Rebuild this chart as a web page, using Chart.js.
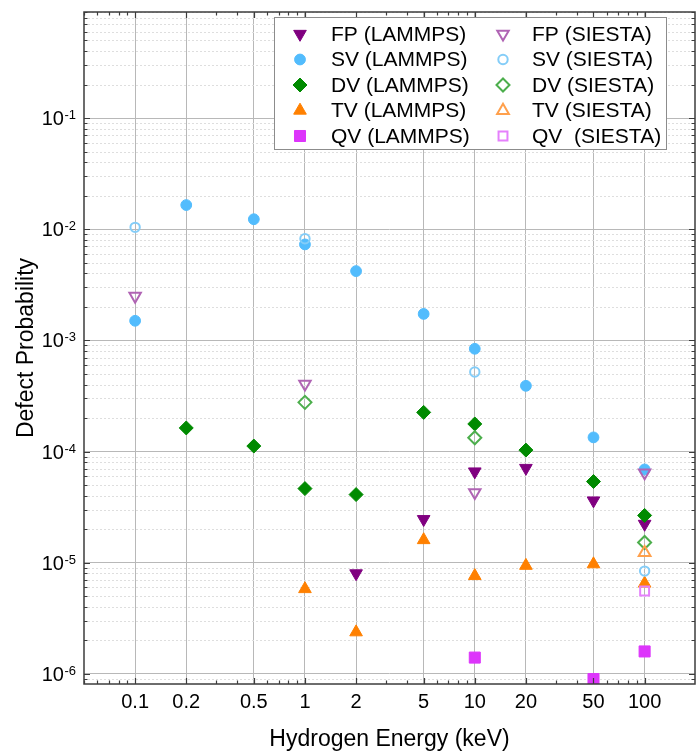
<!DOCTYPE html>
<html>
<head>
<meta charset="utf-8">
<script src="https://cdn.jsdelivr.net/npm/chart.js@4.4.1/dist/chart.umd.min.js"></script>
<style>
  html, body { margin: 0; padding: 0; background: #fff; overflow: hidden; }
</style>
</head>
<body>
<canvas id="graficoDefectos" width="696" height="753"></canvas>
<script>
const energias = [0.1, 0.2, 0.5, 1, 2, 5, 10, 20, 50, 100];

// Probabilidades LAMMPS (null = sin dato)
const fpLammps = [null, null, null, null, 8.0e-6, 2.46e-5, 6.6e-5, 7.1e-5, 3.62e-5, 2.23e-5];
const svLammps = [1.5e-3, 1.65e-2, 1.23e-2, 7.3e-3, 4.2e-3, 1.73e-3, 8.4e-4, 3.9e-4, 1.34e-4, 6.9e-5];
const dvLammps = [null, 1.63e-4, 1.12e-4, 4.64e-5, 4.1e-5, 2.25e-4, 1.77e-4, 1.03e-4, 5.37e-5, 2.66e-5];
const tvLammps = [null, null, null, 5.8e-6, 2.37e-6, 1.6e-5, 7.6e-6, 9.4e-6, 9.7e-6, 6.5e-6];
const qvLammps = [null, null, null, null, null, null, 1.4e-6, null, 8.97e-7, 1.59e-6];

// Probabilidades SIESTA
const fpSiesta = [2.5e-3, null, null, 4.05e-4, null, null, 4.28e-5, null, null, 6.45e-5];
const svSiesta = [1.04e-2, null, null, 8.2e-3, null, null, 5.2e-4, null, null, 8.4e-6];
const dvSiesta = [null, null, null, 2.77e-4, null, null, 1.33e-4, null, null, 1.52e-5];
const tvSiesta = [null, null, null, null, null, null, null, null, null, 1.23e-5];
const qvSiesta = [null, null, null, null, null, null, null, null, null, 5.57e-6];

const etiquetasX = [0.1, 0.2, 0.5, 1, 2, 5, 10, 20, 50, 100];
const exponentesY = [-6, -5, -4, -3, -2, -1];

const fuente = '"Liberation Sans", Arial, sans-serif';

function puntos(valores) {
  return energias.map((x, i) => ({ x: x, y: valores[i] })).filter(p => p.y !== null);
}

function serie(label, valores, estilo, color, radio, relleno, rotacion) {
  return {
    label: label,
    data: puntos(valores),
    pointStyle: estilo,
    pointRotation: rotacion || 0,
    pointRadius: radio,
    pointBackgroundColor: relleno ? color : 'rgba(0,0,0,0)',
    pointBorderColor: color,
    pointBorderWidth: relleno ? 1 : 2,
    showLine: false
  };
}

const series = [
  serie('FP (LAMMPS)', fpLammps, 'triangle', '#800080', 7.3, true, 180),
  serie('SV (LAMMPS)', svLammps, 'circle', '#52bcfd', 5.4, true),
  serie('DV (LAMMPS)', dvLammps, 'rectRot', '#008a00', 7, true),
  serie('TV (LAMMPS)', tvLammps, 'triangle', '#ff8000', 7.3, true),
  serie('QV (LAMMPS)', qvLammps, 'rect', '#dd35fb', 7.8, true),
  serie('FP (SIESTA)', fpSiesta, 'triangle', '#b064b4', 6.6, false, 180),
  serie('SV (SIESTA)', svSiesta, 'circle', '#84cdf8', 4.7, false),
  serie('DV (SIESTA)', dvSiesta, 'rectRot', '#4cae4c', 6.5, false),
  serie('TV (SIESTA)', tvSiesta, 'triangle', '#ffa04c', 6.8, false),
  serie('QV  (SIESTA)', qvSiesta, 'rect', '#e580fc', 6.3, false)
];
// las series posteriores se dibujan encima
series.forEach((s, i) => { s.order = -i; });

// Rejilla menor punteada, marco, marcas interiores, etiquetas de ejes y leyenda
const marco = {
  id: 'marco',
  beforeDatasetsDraw(chart) {
    const { ctx, chartArea: a, scales: { y } } = chart;
    ctx.save();
    ctx.strokeStyle = '#dedede';
    ctx.lineWidth = 1;
    ctx.setLineDash([2, 2]);
    for (let k = -7; k <= 0; k++) {
      for (let m = 2; m <= 9; m++) {
        const v = m * Math.pow(10, k);
        if (v < y.min || v > y.max) continue;
        const py = Math.round(y.getPixelForValue(v)) + 0.5;
        ctx.beginPath();
        ctx.moveTo(a.left, py);
        ctx.lineTo(a.right, py);
        ctx.stroke();
      }
    }
    ctx.restore();
  },
  afterDatasetsDraw(chart) {
    const { ctx, chartArea: a, scales: { x, y } } = chart;
    ctx.save();
    ctx.strokeStyle = '#3c3c3c';
    ctx.lineWidth = 1.2;
    for (let k = -2; k <= 2; k++) {
      for (let m = 1; m <= 9; m++) {
        const v = m * Math.pow(10, k);
        if (v < x.min || v > x.max) continue;
        const px = Math.round(x.getPixelForValue(v)) + 0.5;
        const largo = etiquetasX.includes(+v.toPrecision(3)) ? 6 : 3.5;
        ctx.beginPath();
        ctx.moveTo(px, a.bottom); ctx.lineTo(px, a.bottom - largo);
        ctx.moveTo(px, a.top); ctx.lineTo(px, a.top + largo);
        ctx.stroke();
      }
    }
    for (let k = -7; k <= 0; k++) {
      for (let m = 1; m <= 9; m++) {
        const v = m * Math.pow(10, k);
        if (v < y.min || v > y.max) continue;
        const py = Math.round(y.getPixelForValue(v)) + 0.5;
        const largo = m === 1 ? 6 : 3.5;
        ctx.beginPath();
        ctx.moveTo(a.left, py); ctx.lineTo(a.left + largo, py);
        ctx.moveTo(a.right, py); ctx.lineTo(a.right - largo, py);
        ctx.stroke();
      }
    }
    ctx.lineWidth = 1.5;
    ctx.strokeRect(a.left, a.top, a.right - a.left, a.bottom - a.top);
    ctx.restore();
  },
  afterDraw(chart) {
    const { ctx, chartArea: a, scales: { x, y } } = chart;
    ctx.save();
    ctx.fillStyle = '#000';
    ctx.textBaseline = 'alphabetic';

    // etiquetas del eje x
    ctx.font = '20px ' + fuente;
    ctx.textAlign = 'center';
    etiquetasX.forEach(v => {
      ctx.fillText(String(v), x.getPixelForValue(v), a.bottom + 24);
    });

    // etiquetas 10^n del eje y
    exponentesY.forEach(e => {
      const py = y.getPixelForValue(Math.pow(10, e));
      const sup = String(e);
      ctx.font = '13px ' + fuente;
      const supX = 76 - ctx.measureText(sup).width;
      ctx.textAlign = 'left';
      ctx.fillText(sup, supX, py + 1);
      ctx.font = '20px ' + fuente;
      ctx.textAlign = 'right';
      ctx.fillText('10', supX - 0.5, py + 7);
    });

    // leyenda en dos columnas
    const caja = { x: 274.5, y: 17.5, w: 392, h: 132 };
    ctx.fillStyle = '#fff';
    ctx.fillRect(caja.x, caja.y, caja.w, caja.h);
    ctx.strokeStyle = '#8c8c8c';
    ctx.lineWidth = 1;
    ctx.strokeRect(caja.x, caja.y, caja.w, caja.h);
    const columnas = [{ marca: 300, texto: 331 }, { marca: 503, texto: 532 }];
    ctx.font = '21px ' + fuente;
    ctx.textAlign = 'left';
    ctx.textBaseline = 'middle';
    chart.data.datasets.forEach((ds, i) => {
      const col = columnas[Math.floor(i / 5)];
      const fy = 34 + (i % 5) * 25.5;
      ctx.fillStyle = ds.pointBackgroundColor;
      ctx.strokeStyle = ds.pointBorderColor;
      ctx.lineWidth = ds.pointBorderWidth;
      Chart.helpers.drawPoint(ctx, {
        pointStyle: ds.pointStyle,
        rotation: ds.pointRotation,
        radius: ds.pointRadius,
        borderWidth: ds.pointBorderWidth
      }, col.marca, fy);
      ctx.fillStyle = '#000';
      ctx.fillText(ds.label, col.texto, fy + 1);
    });
    ctx.restore();
  }
};

const ctx = document.getElementById('graficoDefectos').getContext('2d');
const grafico = new Chart(ctx, {
  type: 'scatter',
  data: { datasets: series },
  options: {
    responsive: false,
    animation: false,
    events: [],
    layout: { autoPadding: false, padding: { top: 12, right: 1, left: 0, bottom: 0 } },
    plugins: { legend: { display: false }, tooltip: { enabled: false } },
    scales: {
      x: {
        type: 'logarithmic',
        min: 0.05,
        max: 198,
        afterBuildTicks: scale => { scale.ticks = etiquetasX.map(v => ({ value: v })); },
        afterFit: scale => { scale.height = 69; },
        grid: { color: '#b8b8b8', lineWidth: 1, drawTicks: false },
        border: { display: false },
        ticks: { display: false },
        title: {
          display: true,
          text: 'Hydrogen Energy (keV)',
          color: '#000',
          font: { family: fuente, size: 23 },
          padding: { top: 0, bottom: 0 }
        }
      },
      y: {
        type: 'logarithmic',
        min: 8.1e-7,
        max: 0.9,
        afterBuildTicks: scale => { scale.ticks = exponentesY.map(e => ({ value: Math.pow(10, e) })); },
        afterFit: scale => { scale.width = 84; },
        grid: { color: '#b8b8b8', lineWidth: 1, drawTicks: false },
        border: { display: false },
        ticks: { display: false },
        title: {
          display: true,
          text: 'Defect Probability',
          color: '#000',
          font: { family: fuente, size: 23 },
          padding: { top: 13, bottom: 0 }
        }
      }
    }
  },
  plugins: [marco]
});
</script>
</body>
</html>
